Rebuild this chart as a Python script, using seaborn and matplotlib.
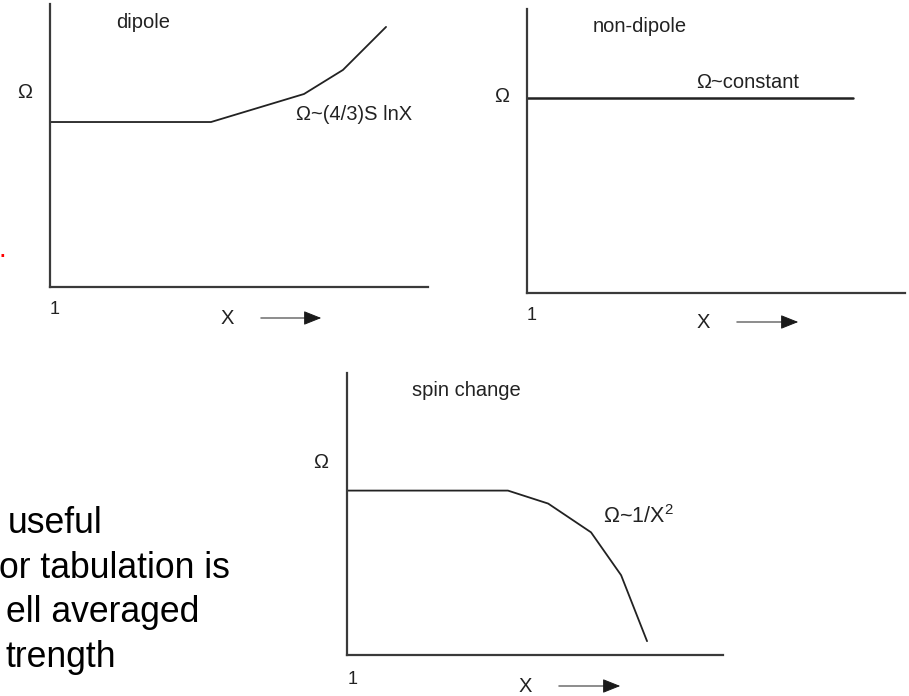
import matplotlib
matplotlib.use("Agg")
import matplotlib.pyplot as plt
import seaborn as sns
from matplotlib.patches import FancyArrowPatch

# Schematic collision-strength behaviour (relative units on both axes)
dipole_x = [0, 42.6, 67.2, 77.5, 88.9]
dipole_omega = [58.3, 58.3, 68.2, 76.7, 91.9]

nondipole_x = [0, 86.2]
nondipole_omega = [68.7, 68.7]

spin_x = [0, 42.8, 53.5, 64.9, 72.9, 79.8]
spin_omega = [58.3, 58.3, 53.7, 43.5, 28.3, 4.9]

panel_titles = ["dipole", "non-dipole", "spin change"]
panel_laws = ["Ω~(4/3)S lnX", "Ω~constant", "Ω~1/X$^{2}$"]
body_lines = ["useful", "or tabulation is", "ell averaged", "trength"]

sns.set_style("white")
plt.rcParams["font.family"] = ["Liberation Sans", "DejaVu Sans"]
plt.rcParams["mathtext.fontset"] = "custom"
plt.rcParams["mathtext.rm"] = "Liberation Sans"
plt.rcParams["mathtext.it"] = "Liberation Sans"

W, H = 909, 696
fig = plt.figure(figsize=(W / 100, H / 100), dpi=100)


def fx(x):
    return x / W


def fy(y):
    return 1 - y / H


def panel(left, right, top, bottom):
    ax = fig.add_axes([fx(left), fy(bottom), (right - left) / W, (bottom - top) / H])
    ax.set_xlim(0, 100)
    ax.set_ylim(0, 100)
    ax.set_xticks([])
    ax.set_yticks([])
    for side in ("top", "right"):
        ax.spines[side].set_visible(False)
    for side in ("left", "bottom"):
        ax.spines[side].set_color("#3a3a3a")
        ax.spines[side].set_linewidth(1.6)
    ax.patch.set_alpha(0)
    ax.set_xlabel("")
    ax.set_ylabel("")
    return ax


def text(x, y, s, size=14.5, **kw):
    kw.setdefault("ha", "center")
    kw.setdefault("va", "center")
    fig.text(fx(x), fy(y), s, fontsize=size, color="#222222", **kw)


def x_arrow(x0, x1, y):
    fig.add_artist(FancyArrowPatch(
        (fx(x0), fy(y)), (fx(x1), fy(y)), transform=fig.transFigure,
        arrowstyle="-|>,head_length=0.55,head_width=0.22",
        mutation_scale=20, color="#1a1a1a", lw=0.7))


# dipole
ax1 = panel(50, 428, 4, 287)
sns.lineplot(x=dipole_x, y=dipole_omega, ax=ax1, color="#222222", lw=1.3)
text(143, 22, panel_titles[0])
text(354, 115, panel_laws[0])
text(25, 93, "Ω")
text(55, 310, "1", size=13)
text(227, 318, "X")
x_arrow(258, 324, 318)

# non-dipole
ax2 = panel(527, 905, 9, 293)
sns.lineplot(x=nondipole_x, y=nondipole_omega, ax=ax2, color="#222222", lw=1.8)
text(640, 26, panel_titles[1])
text(748, 83, panel_laws[1])
text(502, 97, "Ω")
text(532, 315, "1", size=13)
text(703, 322, "X")
x_arrow(734, 801, 322)

# spin change
ax3 = panel(347, 723, 373, 655)
sns.lineplot(x=spin_x, y=spin_omega, ax=ax3, color="#222222", lw=1.3)
text(466, 391, panel_titles[2])
text(603, 523, panel_laws[2], size=15.5, ha="left", va="baseline")
text(321, 463, "Ω")
text(353, 679, "1", size=13)
text(525, 687, "X")
x_arrow(556, 623, 686)

# Slide body text running in from the left edge
body_x = [8, -1, 6, 5]
body_base = [533, 578, 622, 667]
for s, x, y in zip(body_lines, body_x, body_base):
    fig.text(fx(x), fy(y), s, fontsize=25.6, color="black", ha="left", va="baseline")

fig.text(fx(-1.5), fy(257), ".", fontsize=20, color="red", ha="left", va="baseline")

fig.savefig("out.png", dpi=100)
